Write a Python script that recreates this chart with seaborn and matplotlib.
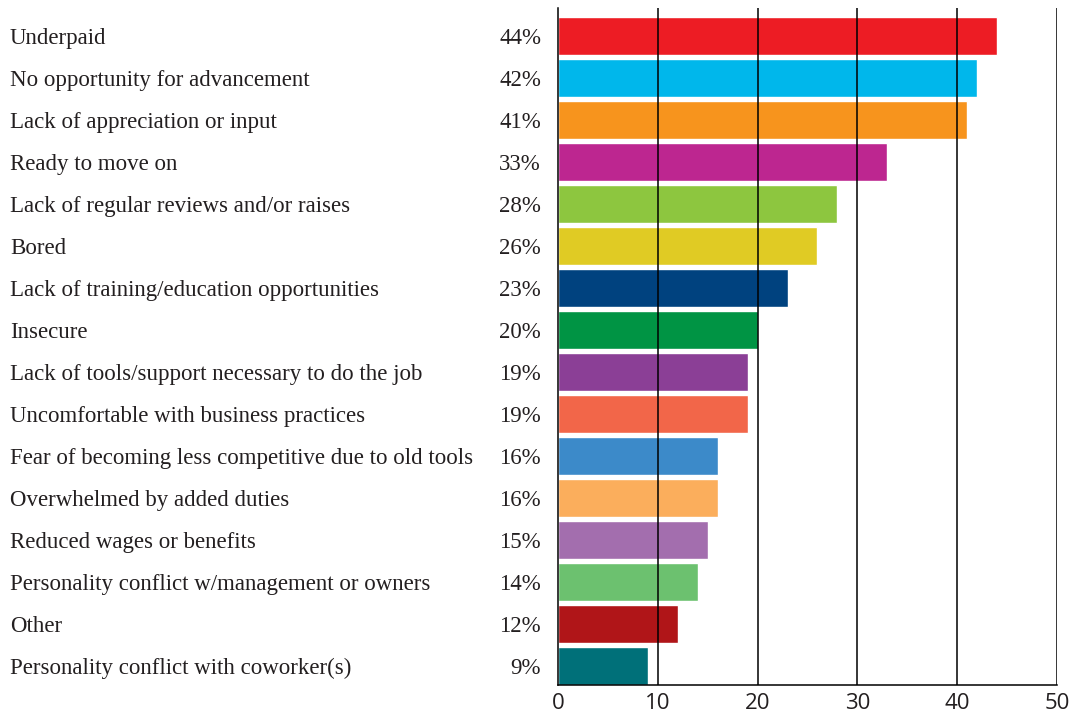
import matplotlib
matplotlib.use("Agg")
import matplotlib.pyplot as plt
import seaborn as sns
import pandas as pd

reasons = [
    "Underpaid",
    "No opportunity for advancement",
    "Lack of appreciation or input",
    "Ready to move on",
    "Lack of regular reviews and/or raises",
    "Bored",
    "Lack of training/education opportunities",
    "Insecure",
    "Lack of tools/support necessary to do the job",
    "Uncomfortable with business practices",
    "Fear of becoming less competitive due to old tools",
    "Overwhelmed by added duties",
    "Reduced wages or benefits",
    "Personality conflict w/management or owners",
    "Other",
    "Personality conflict with coworker(s)",
]
percents = [44, 42, 41, 33, 28, 26, 23, 20, 19, 19, 16, 16, 15, 14, 12, 9]
colors = [
    "#ED1C24", "#00B7EB", "#F7941D", "#BD2690", "#8DC63F", "#E0CB24",
    "#00427F", "#009444", "#8B3F96", "#F26649", "#3C8AC9", "#FBAE5C",
    "#A36EAE", "#6CC16F", "#B01518", "#007079",
]
x_ticks = [0, 10, 20, 30, 40, 50]

df = pd.DataFrame({"reason": reasons, "pct": percents})

sns.set_style("white")
fig = plt.figure(figsize=(10.74, 7.13), dpi=100)
ax = fig.add_axes([558 / 1074, 1 - 685 / 713, 499 / 1074, 677 / 713])

sns.barplot(data=df, x="pct", y="reason", hue="reason", palette=colors,
            order=reasons, hue_order=reasons, width=0.9, legend=False,
            saturation=1, ax=ax)

ax.set_xlim(0, 50)
ax.set_ylim(len(reasons) - 0.55, -0.66)
ax.set_xticks(x_ticks)
ax.set_xticklabels([str(t) for t in x_ticks], family="Open Sans", fontsize=16,
                   color="#231F20")
ax.tick_params(axis="x", length=0, pad=6)
ax.set_yticks([])
ax.set_xlabel("")
ax.set_ylabel("")

# vertical grid drawn on top of the bars
for x in x_ticks[1:]:
    ax.axvline(x, color="black", lw=1.1, zorder=5)

for side in ["top", "right"]:
    ax.spines[side].set_visible(False)
for side in ["left", "bottom"]:
    ax.spines[side].set_color("black")
    ax.spines[side].set_linewidth(1.1)
    ax.spines[side].set_zorder(6)

# category names on the far left, percentages right-aligned next to the axis
for i, (r, p) in enumerate(zip(reasons, percents)):
    ax.annotate(r, xy=(10 / 1074, i), xycoords=("figure fraction", "data"),
                ha="left", va="center_baseline", family="Liberation Serif",
                fontsize=16.5, color="#231F20", annotation_clip=False)
    ax.annotate(f"{p}%", xy=(541 / 1074, i), xycoords=("figure fraction", "data"),
                ha="right", va="center_baseline", family="Liberation Serif",
                fontsize=16.5, color="#231F20", annotation_clip=False)

fig.savefig("out.png", dpi=100)
